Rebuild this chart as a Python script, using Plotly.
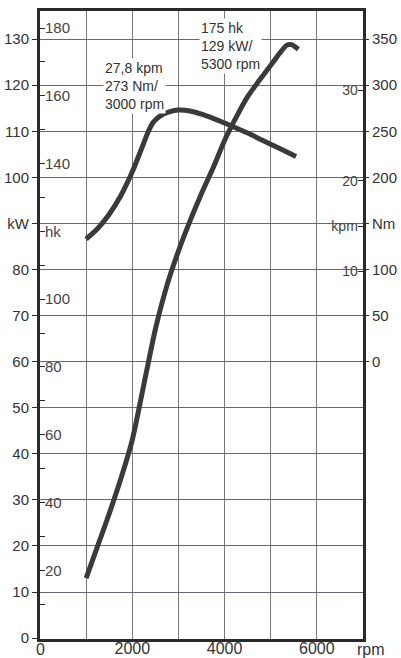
import plotly.graph_objects as go

# ---- data ----
rpm_power = [1000, 1250, 1500, 1750, 2000, 2250, 2500, 2750, 3000, 3250, 3500, 3750, 4000, 4250, 4500, 4750, 5000, 5200, 5350, 5450, 5600]
power_kw = [13, 20, 27, 34.5, 43, 55, 67, 76.5, 84, 90.5, 96.5, 102, 108, 113, 117.5, 121, 124.3, 127, 128.7, 128.8, 127.8]

rpm_torque = [1000, 1250, 1500, 1750, 2000, 2200, 2350, 2450, 2600, 2800, 3000, 3250, 3500, 3750, 4000, 4250, 4500, 4750, 5000, 5250, 5550]
torque_nm = [133, 144.5, 160, 180, 206, 231, 250, 259.5, 266.5, 271, 273, 272, 268.5, 264, 259, 253.5, 248, 242, 236, 230, 222.5]

x_tickvals = [2000, 4000, 6000]
x_ticktext = ["2000", "4000", "6000"]

kw_tickvals = list(range(0, 140, 10))
kw_ticktext = [("kW" if v == 90 else str(v)) for v in kw_tickvals]

hk_tickvals = list(range(10, 190, 10))
hk_ticktext = [("hk" if v == 120 else (str(v) if v % 20 == 0 else "")) for v in hk_tickvals]

nm_tickvals = list(range(0, 400, 50))
nm_ticktext = [("Nm" if v == 150 else str(v)) for v in nm_tickvals]

kpm_tickvals = [10, 15, 20, 30]
kpm_ticktext = ["10", "kpm", "20", "30"]

# unit conversions
KW_TO_HK = 1.3596
NM_PER_KPM = 9.80665

# axis ranges (kW primary; others are linear transforms of it)
KW_RANGE = [-0.2, 136.1]
NM_RANGE = [(KW_RANGE[0] - 60) * 5, (KW_RANGE[1] - 60) * 5]
HK_RANGE = [KW_RANGE[0] * KW_TO_HK, KW_RANGE[1] * KW_TO_HK]
KPM_RANGE = [NM_RANGE[0] / NM_PER_KPM, NM_RANGE[1] / NM_PER_KPM]

power_hk = [v * KW_TO_HK for v in power_kw]
torque_kpm = [v / NM_PER_KPM for v in torque_nm]

INK = "#3a3a3a"
TXT = "#333333"
FONT = "Liberation Sans, Arial, sans-serif"
LINE = dict(color=INK, width=5, shape="spline", smoothing=0.7)

fig = go.Figure()
fig.add_trace(go.Scatter(x=rpm_power, y=power_kw, mode="lines", line=LINE,
                         yaxis="y", showlegend=False, hoverinfo="skip"))
fig.add_trace(go.Scatter(x=rpm_torque, y=torque_nm, mode="lines", line=LINE,
                         yaxis="y2", showlegend=False, hoverinfo="skip"))
# same curves expressed in hk and kpm (coincide exactly; transparent, they carry the inner scales)
fig.add_trace(go.Scatter(x=rpm_power, y=power_hk, mode="lines", line=dict(width=0),
                         opacity=0, yaxis="y3", showlegend=False, hoverinfo="skip"))
fig.add_trace(go.Scatter(x=rpm_torque, y=torque_kpm, mode="lines", line=dict(width=0),
                         opacity=0, yaxis="y4", showlegend=False, hoverinfo="skip"))

fig.update_layout(
    width=401, height=658,
    margin=dict(l=40, r=38, t=11, b=19),
    paper_bgcolor="white", plot_bgcolor="white",
    font=dict(family=FONT, color=TXT, size=14),
    xaxis=dict(range=[0, 7000], showgrid=True, gridcolor="#777777", gridwidth=1,
               dtick=1000, tick0=0,
               tickmode="array", tickvals=[1000 * i for i in range(8)],
               ticktext=[(str(1000 * i) if (1000 * i) in x_tickvals else "") for i in range(8)],
               ticks="", ticklen=0,
               showline=True, linecolor="#2a2a2a", linewidth=3, mirror=True,
               tickfont=dict(size=16), zeroline=False, automargin=False,
               ticklabelstandoff=-7, ticklabeloverflow="allow"),
    yaxis=dict(range=KW_RANGE, tickmode="array", tickvals=kw_tickvals, ticktext=kw_ticktext,
               ticks="outside", ticklen=5, tickcolor="#2a2a2a", tickwidth=1,
               showgrid=True, gridcolor="#6b6478", gridwidth=1,
               showline=True, linecolor="#2a2a2a", linewidth=3, mirror=True,
               zeroline=False, tickfont=dict(size=15), automargin=False),
    yaxis3=dict(range=HK_RANGE, overlaying="y", side="left", anchor="x",
                tickmode="array", tickvals=hk_tickvals, ticktext=hk_ticktext,
                ticks="inside", ticklen=5, tickcolor="#2a2a2a", tickwidth=1,
                ticklabelposition="inside", showgrid=False, showline=False, zeroline=False,
                tickfont=dict(size=15), automargin=False),
    yaxis2=dict(range=NM_RANGE, overlaying="y", side="right", anchor="x",
                tickmode="array", tickvals=nm_tickvals, ticktext=nm_ticktext,
                ticks="outside", ticklen=5, tickcolor="#2a2a2a", tickwidth=1,
                showgrid=False, showline=False, zeroline=False, tickfont=dict(size=15),
                automargin=False),
    yaxis4=dict(range=KPM_RANGE, overlaying="y", side="right", anchor="x",
                tickmode="array", tickvals=kpm_tickvals, ticktext=kpm_ticktext,
                ticks="inside", ticklen=5, tickcolor="#2a2a2a", tickwidth=1,
                ticklabelposition="inside", showgrid=False, showline=False, zeroline=False,
                tickfont=dict(size=14), automargin=False),
)

# origin label of the rpm axis and its unit
fig.add_annotation(x=0, y=0, xref="x", yref="y", text="0", showarrow=False,
                   xanchor="center", yanchor="top", yshift=-1,
                   font=dict(size=16, color=TXT))
fig.add_annotation(x=7000, y=0, xref="x", yref="y", text="rpm", showarrow=False,
                   xanchor="center", yanchor="top", xshift=8, yshift=-1,
                   font=dict(size=16, color=TXT))
fig.add_annotation(x=3435, y=134.5, xref="x", yref="y",
                   text="175 hk<br>129 kW/<br>5300 rpm", showarrow=False,
                   xanchor="left", yanchor="top", align="left",
                   bgcolor="white", borderpad=1, font=dict(size=14, color=TXT))
fig.add_annotation(x=1370, y=125.9, xref="x", yref="y",
                   text="27,8 kpm<br>273 Nm/<br>3000 rpm", showarrow=False,
                   xanchor="left", yanchor="top", align="left",
                   bgcolor="white", borderpad=1, font=dict(size=14, color=TXT))

fig.write_html("out.html", config={"displayModeBar": False},
               post_script="document.body.style.margin='0';document.body.style.padding='0';")
